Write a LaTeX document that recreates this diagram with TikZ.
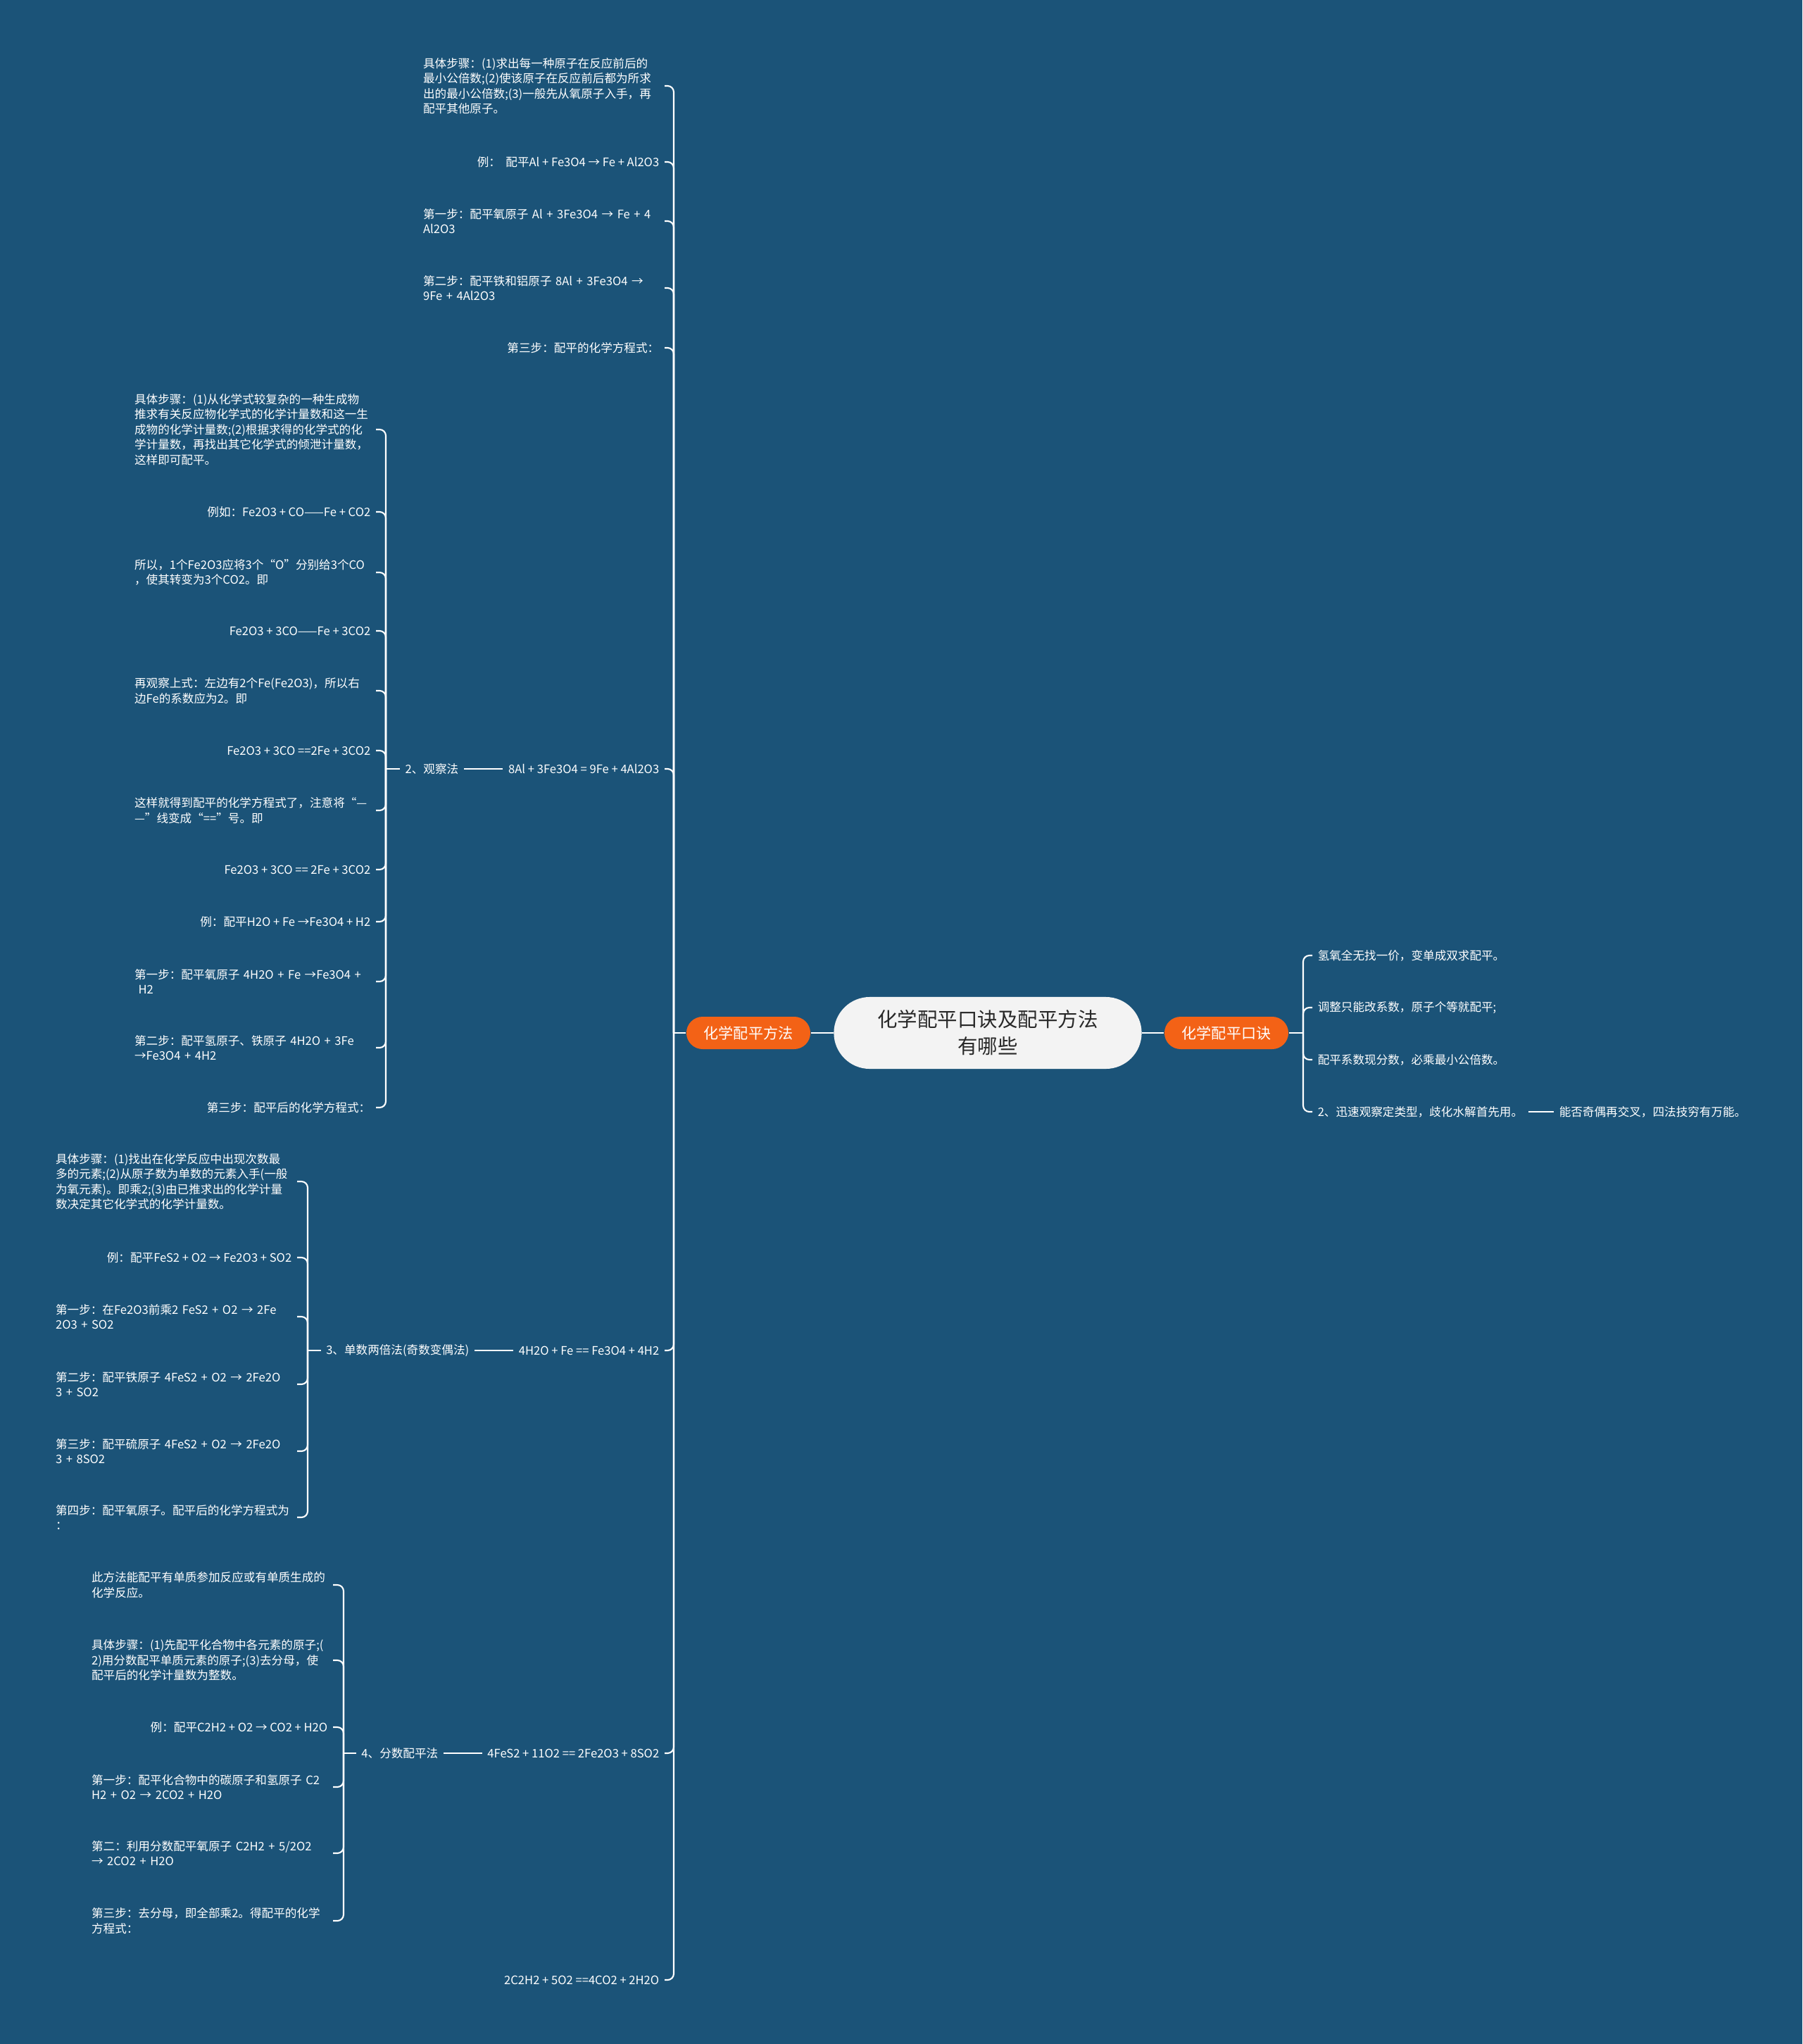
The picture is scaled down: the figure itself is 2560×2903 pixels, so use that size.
\documentclass[tikz,border=0pt]{standalone}
\usepackage{fontspec}
\setmainfont{Noto Sans CJK SC}
\definecolor{bgblue}{RGB}{27,83,120}
\definecolor{topicorange}{RGB}{243,98,22}
\definecolor{rootgray}{RGB}{243,243,243}
\definecolor{roottext}{RGB}{40,40,40}
\begin{document}
\begin{tikzpicture}[x=0.01cm, y=-0.01cm,
  every node/.style={text=white, inner sep=2pt},
  leaf/.style={font=\fontsize{4.72}{6.1}\selectfont, align=left, anchor=east},
  mleaf/.style={leaf, text width=3.35cm},
  rleaf/.style={leaf, anchor=west},
  topic/.style={fill=topicorange, rounded corners=0.23cm, minimum width=1.76cm, minimum height=0.46cm, font=\fontsize{6}{7.5}\selectfont},
  root/.style={fill=rootgray, text=roottext, rounded corners=0.51cm, minimum width=4.37cm, minimum height=1.02cm, align=center, font=\fontsize{8.1}{10.8}\selectfont},
  link/.style={draw=white, line width=0.6pt, rounded corners=2.5pt},
  mainlink/.style={draw=white, line width=0.8pt}]
  \fill[bgblue] (0,0) rectangle (2560,2903);
  % centre and the two main topics
  \node[root] (root) at (1403,1467) {化学配平口诀及配平方法\\有哪些};
  \node[topic] (tl) at (1063,1467) {化学配平方法};
  \node[topic] (tr) at (1742,1467) {化学配平口诀};
  \coordinate (jA) at (957,1467);
  \coordinate (jR) at (1851,1467);
  \draw[mainlink] (root.west) -- (tl.east);
  \draw[mainlink] (root.east) -- (tr.west);
  \draw[link] (tl.west) -- (jA);
  \draw[link] (tr.east) -- (jR);
  % 化学配平方法
  \node[mleaf] (a1) at (944,122) {具体步骤：(1)求出每一种原子在反应前后的\\最小公倍数;(2)使该原子在反应前后都为所求\\出的最小公倍数;(3)一般先从氧原子入手，再\\配平其他原子。};
  \node[leaf] (a2) at (944,230) {例：~~配平Al + Fe3O4 → Fe + Al2O3};
  \node[mleaf] (a3) at (944,314) {第一步：配平氧原子 Al + 3Fe3O4 → Fe + 4\\Al2O3};
  \node[mleaf] (a4) at (944,409) {第二步：配平铁和铝原子 8Al + 3Fe3O4 →\\9Fe + 4Al2O3};
  \node[leaf] (a5) at (944,494) {第三步：配平的化学方程式：};
  \node[leaf] (a6) at (944,1092) {8Al + 3Fe3O4 = 9Fe + 4Al2O3};
  \node[leaf] (a7) at (944,1918) {4H2O + Fe == Fe3O4 + 4H2};
  \node[leaf] (a8) at (944,2490) {4FeS2 + 11O2 == 2Fe2O3 + 8SO2};
  \node[leaf] (a9) at (944,2812) {2C2H2 + 5O2 ==4CO2 + 2H2O};
  \foreach \n in {1,...,9} \draw[link] (jA) |- (a\n.east);
  % 2、观察法
  \node[leaf] (b0) at (659,1092) {2、观察法};
  \coordinate (jB) at (548,1092);
  \draw[link] (a6.west) -- (b0.east);
  \draw[link] (b0.west) -- (jB);
  \node[mleaf] (b1) at (534,610) {具体步骤：(1)从化学式较复杂的一种生成物\\推求有关反应物化学式的化学计量数和这一生\\成物的化学计量数;(2)根据求得的化学式的化\\学计量数，再找出其它化学式的倾泄计量数，\\这样即可配平。};
  \node[leaf] (b2) at (534,727) {例如：Fe2O3 + CO——Fe + CO2};
  \node[mleaf] (b3) at (534,813) {所以，1个Fe2O3应将3个“O”分别给3个CO\\，使其转变为3个CO2。即};
  \node[leaf] (b4) at (534,896) {Fe2O3 + 3CO——Fe + 3CO2};
  \node[mleaf] (b5) at (534,981) {再观察上式：左边有2个Fe(Fe2O3)，所以右\\边Fe的系数应为2。即};
  \node[leaf] (b6) at (534,1066) {Fe2O3 + 3CO ==2Fe + 3CO2};
  \node[mleaf] (b7) at (534,1151) {这样就得到配平的化学方程式了，注意将“—\\—”线变成“==”号。即};
  \node[leaf] (b8) at (534,1235) {Fe2O3 + 3CO == 2Fe + 3CO2};
  \node[leaf] (b9) at (534,1309) {例：配平H2O + Fe →Fe3O4 + H2};
  \node[mleaf] (b10) at (534,1394) {第一步：配平氧原子 4H2O + Fe →Fe3O4 +\\\ H2};
  \node[mleaf] (b11) at (534,1488) {第二步：配平氢原子、铁原子 4H2O + 3Fe\\→Fe3O4 + 4H2};
  \node[leaf] (b12) at (534,1573) {第三步：配平后的化学方程式：};
  \foreach \n in {1,...,12} \draw[link] (jB) |- (b\n.east);
  % 3、单数两倍法
  \node[leaf] (c0) at (674,1918) {3、单数两倍法(奇数变偶法)};
  \coordinate (jC) at (437,1918);
  \draw[link] (a7.west) -- (c0.east);
  \draw[link] (c0.west) -- (jC);
  \node[mleaf] (c1) at (422,1678) {具体步骤：(1)找出在化学反应中出现次数最\\多的元素;(2)从原子数为单数的元素入手(一般\\为氧元素)。即乘2;(3)由已推求出的化学计量\\数决定其它化学式的化学计量数。};
  \node[leaf] (c2) at (422,1786) {例：配平FeS2 + O2 → Fe2O3 + SO2};
  \node[mleaf] (c3) at (422,1870) {第一步：在Fe2O3前乘2 FeS2 + O2 → 2Fe\\2O3 + SO2};
  \node[mleaf] (c4) at (422,1966) {第二步：配平铁原子 4FeS2 + O2 → 2Fe2O\\3 + SO2};
  \node[mleaf] (c5) at (422,2061) {第三步：配平硫原子 4FeS2 + O2 → 2Fe2O\\3 + 8SO2};
  \node[mleaf] (c6) at (422,2155) {第四步：配平氧原子。配平后的化学方程式为\\：};
  \foreach \n in {1,...,6} \draw[link] (jC) |- (c\n.east);
  % 4、分数配平法
  \node[leaf] (d0) at (630,2490) {4、分数配平法};
  \coordinate (jD) at (488,2490);
  \draw[link] (a8.west) -- (d0.east);
  \draw[link] (d0.west) -- (jD);
  \node[mleaf] (d1) at (473,2251) {此方法能配平有单质参加反应或有单质生成的\\化学反应。};
  \node[mleaf] (d2) at (473,2358) {具体步骤：(1)先配平化合物中各元素的原子;(\\2)用分数配平单质元素的原子;(3)去分母，使\\配平后的化学计量数为整数。};
  \node[leaf] (d3) at (473,2453) {例：配平C2H2 + O2 → CO2 + H2O};
  \node[mleaf] (d4) at (473,2538) {第一步：配平化合物中的碳原子和氢原子 C2\\H2 + O2 → 2CO2 + H2O};
  \node[mleaf] (d5) at (473,2632) {第二：利用分数配平氧原子 C2H2 + 5/2O2\\→ 2CO2 + H2O};
  \node[mleaf] (d6) at (473,2728) {第三步：去分母，即全部乘2。得配平的化学\\方程式：};
  \foreach \n in {1,...,6} \draw[link] (jD) |- (d\n.east);
  % 化学配平口诀
  \node[rleaf] (r1) at (1864,1357) {氢氧全无找一价，变单成双求配平。};
  \node[rleaf] (r2) at (1864,1431) {调整只能改系数，原子个等就配平;};
  \node[rleaf] (r3) at (1864,1505) {配平系数现分数，必乘最小公倍数。};
  \node[rleaf] (r4) at (1864,1579) {2、迅速观察定类型，歧化水解首先用。};
  \node[rleaf] (r5) at (2207,1579) {能否奇偶再交叉，四法技穷有万能。};
  \foreach \n in {1,...,4} \draw[link] (jR) |- (r\n.west);
  \draw[link] (r4.east) -- (r5.west);
\end{tikzpicture}
\end{document}
